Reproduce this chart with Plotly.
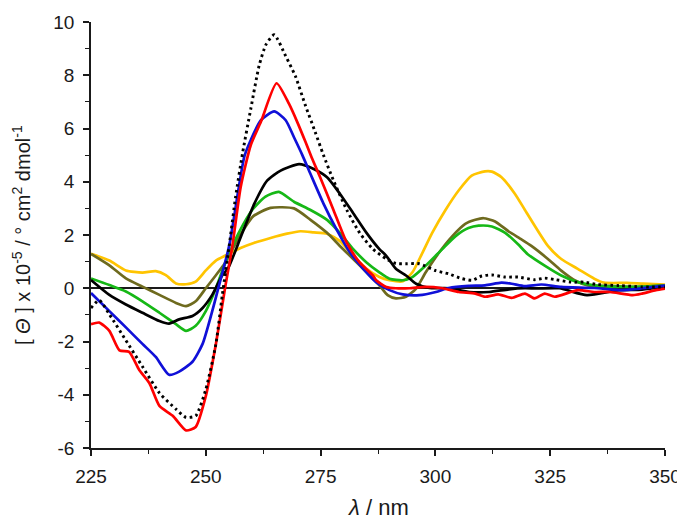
import plotly.graph_objects as go

# ---- data ----
dot_x = [225, 226.8, 229.0, 232.6, 236.2, 239.9, 243.5, 245.7, 247.8, 250.0, 252.2, 253.6, 255.1, 256.5,
         258.0, 259.8, 261.6, 263.1, 264.9, 267.4, 269.5, 271.7, 273.8, 275.6, 277.8, 280.7, 283.5, 286.4,
         289.3, 291.4, 293.6, 296.5, 300.1, 302.9, 305.8, 308.0, 310.1, 312.3, 315.2, 318.0, 321.6, 323.8,
         325.9, 329.5, 332.4, 335.2, 340, 345, 350]
dot_y = [-0.74, -0.45, -0.98, -1.96, -2.94, -3.93, -4.54, -4.85, -4.79, -3.8, -2.09, -0.25, 1.6, 3.44,
         5.07, 6.74, 8.35, 9.15, 9.52, 8.72, 7.97, 6.86, 5.88, 5.01, 4.05, 2.94, 2.08, 1.47,
         1.10, 0.93, 0.92, 0.92, 0.66, 0.54, 0.36, 0.30, 0.46, 0.50, 0.42, 0.42, 0.32, 0.38,
         0.33, 0.23, 0.23, 0.14, 0.10, 0.05, 0.05]

red_x = [225, 226.8, 229.0, 231.2, 233.3, 235.5, 237.7, 239.9, 242.8, 245.7, 247.8, 250.0, 252.2, 254.3,
         255.8, 257.6, 259.8, 262.0, 265.4, 268.1, 269.9, 271.7, 273.1, 274.9, 277.8, 280.7, 283.5, 286.4,
         287.1, 289.3, 291.4, 294.3, 297.9, 301.5, 305.1, 308.7, 310.8, 313.7, 316.6, 319.5, 321.6, 323.8,
         326.0, 331.0, 334.6, 338.0, 343.0, 345.0, 348.0, 350]
red_y = [-1.35, -1.29, -1.6, -2.33, -2.39, -3.07, -3.56, -4.42, -4.79, -5.34, -5.21, -4.05, -2.09, 0.12,
         1.6, 3.8, 5.38, 6.25, 7.70, 6.93, 6.25, 5.5, 4.89, 4.17, 2.94, 1.71, 0.97, 0.48,
         0.30, 0.05, 0.0, 0.0, 0.05, 0.0, -0.14, -0.2, -0.32, -0.23, -0.36, -0.2, -0.38, -0.2,
         -0.32, -0.07, -0.14, -0.14, -0.26, -0.2, -0.07, -0.01]

blue_x = [225, 229.0, 232.6, 236.2, 239.1, 242.0, 244.2, 247.1, 249.3, 251.4, 252.9, 255.1, 257.2, 258.4,
          259.8, 262.0, 264.9, 267.4, 269.2, 271.0, 272.8, 275.6, 278.5, 281.4, 284.3, 287.1, 290.0, 292.9,
          296.5, 300.1, 302.9, 307.2, 310.8, 314.4, 316.6, 319.5, 323.1, 327.4, 334.6, 340.4, 345, 350]
blue_y = [-0.18, -0.86, -1.47, -2.09, -2.58, -3.25, -3.13, -2.76, -2.09, -0.86, 0.12, 1.6, 3.8, 4.95,
          5.57, 6.31, 6.64, 6.31, 5.67, 5.01, 4.29, 3.19, 2.20, 1.34, 0.73, 0.23, -0.07, -0.23,
          -0.26, -0.14, 0.01, 0.09, 0.11, 0.21, 0.17, 0.08, 0.14, 0.05, 0.01, -0.07, 0.0, 0.1]

black_x = [225, 229.0, 232.6, 236.2, 239.9, 242.0, 244.2, 247.1, 249.3, 251.4, 253.6, 254.8, 257.7, 260.6,
           263.4, 266.3, 270.3, 273.5, 276.4, 279.2, 282.1, 285.0, 287.8, 289.3, 291.4, 293.6, 295.8, 298.7,
           303.0, 307.4, 311.7, 316.0, 319.5, 322, 327, 333, 340, 345, 350]
black_y = [0.31, -0.25, -0.61, -0.92, -1.23, -1.33, -1.17, -1.04, -0.74, -0.25, 0.49, 0.73, 1.96, 3.19,
           4.05, 4.42, 4.66, 4.48, 4.17, 3.55, 2.82, 2.08, 1.47, 1.22, 0.73, 0.48, 0.17, 0.01,
           0.0, -0.14, -0.14, -0.04, 0.0, -0.01, 0.0, -0.26, -0.07, -0.05, 0.07]

green_x = [225, 229.0, 232.6, 236.2, 239.9, 243.5, 245.7, 247.8, 250.0, 252.2, 254.3, 257.2, 260.1, 263.0,
           265.9, 269.2, 272.8, 276.4, 279.2, 282.1, 285.0, 287.8, 290.0, 292.9, 295.0, 297.9, 301.5, 304.4,
           307.2, 309.4, 312.3, 315.2, 318.0, 320.1, 323.8, 327.4, 331.0, 334.6, 341.7, 348.5, 350]
green_y = [0.37, 0.12, -0.12, -0.49, -0.92, -1.35, -1.6, -1.41, -0.86, 0.0, 0.98, 2.09, 2.94, 3.44,
           3.62, 3.25, 2.94, 2.57, 2.08, 1.47, 0.97, 0.60, 0.36, 0.30, 0.42, 0.85, 1.47, 1.96,
           2.26, 2.35, 2.32, 2.08, 1.65, 1.28, 0.85, 0.48, 0.23, 0.11, 0.05, 0.09, 0.1]

olive_x = [225, 229.0, 232.6, 236.2, 239.9, 243.5, 245.7, 247.8, 250.0, 252.2, 254.3, 257.5, 260.3, 264.1,
           269.2, 272.8, 276.4, 279.2, 282.1, 285.0, 287.8, 289.6, 291.4, 293.6, 295.8, 297.9, 300.8, 303.7,
           306.5, 308.7, 310.5, 313.0, 315.9, 318.8, 320.9, 324.5, 327.4, 330.3, 333.2, 338.2, 343.2, 350]
olive_y = [1.29, 0.86, 0.37, 0.06, -0.25, -0.55, -0.67, -0.49, 0.0, 0.49, 0.98, 2.0, 2.7, 3.02,
           3.0, 2.57, 2.08, 1.59, 1.10, 0.60, 0.11, -0.26, -0.38, -0.32, -0.01, 0.60, 1.34, 1.96,
           2.42, 2.57, 2.63, 2.51, 2.14, 1.83, 1.59, 1.10, 0.66, 0.30, 0.11, 0.09, 0.05, 0.11]

yellow_x = [225, 229.0, 232.6, 236.2, 239.1, 241.3, 243.5, 245.7, 247.8, 250.0, 252.2, 254.3, 257.7, 260.6,
            264.1, 267.7, 270.6, 273.5, 276.4, 279.2, 282.1, 285.0, 287.8, 290.0, 292.9, 295.0, 297.2, 299.3,
            302.2, 305.1, 307.9, 310.8, 312.3, 314.4, 317.3, 319.5, 324.5, 327.4, 331.0, 334.6, 336.7, 341.7,
            345.3, 350]
yellow_y = [1.29, 1.04, 0.67, 0.59, 0.64, 0.49, 0.18, 0.15, 0.25, 0.67, 1.04, 1.23, 1.52, 1.71,
            1.89, 2.05, 2.14, 2.10, 2.05, 1.77, 1.22, 0.73, 0.42, 0.30, 0.26, 0.60, 1.34, 2.08,
            2.94, 3.68, 4.23, 4.39, 4.38, 4.17, 3.55, 2.94, 1.59, 1.10, 0.73, 0.36, 0.21, 0.20,
            0.17, 0.14]

x_ticks = [225, 250, 275, 300, 325, 350]
y_ticks = [-6, -4, -2, 0, 2, 4, 6, 8, 10]
x_title = "<i>λ</i> / nm"
y_title = "[ <i>Θ</i> ] x 10<sup>-5</sup> / ° cm<sup>2</sup> dmol<sup>-1</sup>"

series = [
    (yellow_x, yellow_y, "#ffc400", "solid"),
    (olive_x, olive_y, "#6e6a1e", "solid"),
    (green_x, green_y, "#16b816", "solid"),
    (black_x, black_y, "#000000", "solid"),
    (blue_x, blue_y, "#1010d8", "solid"),
    (red_x, red_y, "#ff0000", "solid"),
    (dot_x, dot_y, "#000000", "2.6px,3.4px"),
]

fig = go.Figure()
for xs, ys, col, dash in series:
    fig.add_trace(go.Scatter(x=xs, y=ys, mode="lines",
                             line=dict(color=col, width=2.7 if dash == "solid" else 2.9, dash=dash,
                                       shape="spline", smoothing=0.6),
                             showlegend=False, hoverinfo="skip"))

font_family = "Liberation Sans, Arial, sans-serif"
axis_col = "#1a1a1a"
# page body has an 8px margin, so the figure is offset by 8px inside the 685x523 window
fig.update_layout(
    width=677, height=515,
    margin=dict(l=83, r=20, t=4, b=75),
    paper_bgcolor="white", plot_bgcolor="white",
    font=dict(family=font_family, size=19, color=axis_col),
    annotations=[
        dict(text=y_title, xref="paper", yref="paper", x=0, y=0.5, xanchor="center", yanchor="middle",
             xshift=-70, textangle=-90, showarrow=False, font=dict(size=20, color=axis_col)),
        dict(text=x_title, xref="paper", yref="paper", x=0.5, y=0, xanchor="center", yanchor="middle",
             yshift=-59, showarrow=False, borderpad=0, font=dict(size=22, color=axis_col)),
    ],
)
fig.update_xaxes(
    range=[225, 350], tickvals=x_ticks, ticktext=[str(v) for v in x_ticks],
    ticklabeloverflow="allow", ticklabelstandoff=4,
    showgrid=False, zeroline=False, showline=True, linecolor=axis_col, linewidth=1.5,
    ticks="outside", ticklen=6, tickwidth=1.5, tickcolor=axis_col,
    minor=dict(ticks="outside", ticklen=4, tickwidth=1.2, tickcolor=axis_col, dtick=12.5, tick0=225, showgrid=False),
    tickfont=dict(size=19),
)
fig.update_yaxes(
    range=[-6, 10], tickvals=y_ticks, ticktext=[str(v) for v in y_ticks],
    ticklabeloverflow="allow", ticklabelstandoff=5,
    showgrid=False, zeroline=True, zerolinecolor=axis_col, zerolinewidth=1.5,
    showline=True, linecolor=axis_col, linewidth=1.5,
    ticks="outside", ticklen=6, tickwidth=1.5, tickcolor=axis_col,
    minor=dict(ticks="outside", ticklen=4, tickwidth=1.2, tickcolor=axis_col, dtick=1, tick0=0, showgrid=False),
    tickfont=dict(size=19),
)

fig.write_html("out.html")
